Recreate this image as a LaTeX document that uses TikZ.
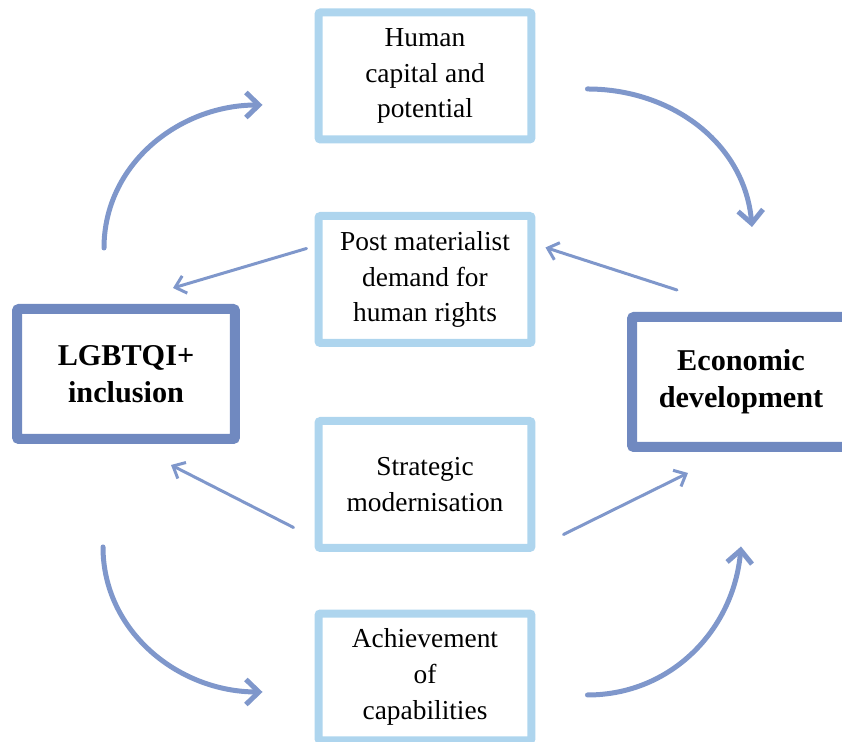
\documentclass[tikz,border=0pt]{standalone}
\usepackage{fontspec}
\setmainfont{Liberation Serif}
\usetikzlibrary{calc}
\usetikzlibrary{arrows.meta}
\definecolor{lightframe}{HTML}{AED5EE}
\definecolor{darkframe}{HTML}{7089C0}
\definecolor{arrowblue}{HTML}{7F97CB}

\begin{document}
\begin{tikzpicture}[x=0.02cm,y=0.02cm,
    lightbox/.style={draw=lightframe,line width=0.16cm,rounded corners=0.04cm,minimum width=4.26cm,minimum height=2.54cm,align=center,font=\fontsize{15.6}{20.3}\selectfont},
    darkbox/.style={draw=darkframe,line width=0.2cm,rounded corners=0.04cm,minimum width=4.36cm,minimum height=2.6cm,align=center,font=\fontsize{17.2}{21}\selectfont\bfseries},
    bigarrow/.style={draw=arrowblue,line width=0.1cm,line cap=round,-{Straight Barb[length=0.26cm,width=0.5cm]}},
    thinarrow/.style={draw=arrowblue,line width=0.06cm,line cap=round,-{Straight Barb[length=0.2cm,width=0.36cm]}}]
    \useasboundingbox (0,0) rectangle (842,742);
    \clip (0,0) rectangle (842,742);
    % middle column
    \foreach \name/\y/\txt in {human/666/{Human\\capital and\\potential},
      postmat/462.5/{Post materialist\\demand for\\human rights},
      strategic/257.5/{Strategic\\modernisation},
      capab/65/{Achievement\\of\\capabilities}}
    {
      \node[lightbox] (\name) at (425,\y) {\txt};
    }
    \node[darkbox] (lgbt) at (126,368) {LGBTQI+\\inclusion};
    \node[darkbox] (econ) at (741,360) {Economic\\development};
    % outer loop
    \draw[bigarrow] ($(lgbt.north)+(-22,56)$) to[out=90,in=180] ($(human.west)+(-52,-29)$);
    \draw[bigarrow] ($(human.east)+(52,-13)$) to[out=0,in=95] ($(econ.north)+(11,85)$);
    \draw[bigarrow] ($(lgbt.south)+(-23,-103)$) to[out=-90,in=180] ($(capab.west)+(-52,-15)$);
    \draw[bigarrow] ($(capab.east)+(52,-18)$) to[out=0,in=-95] ($(econ.south)+(0,-94.5)$);
    % inner arrows
    \draw[thinarrow] ($(postmat.west)+(-8,31)$) -- ($(lgbt.north)+(47,16)$);
    \draw[thinarrow] ($(econ.north)+(-64,22)$) -- ($(postmat.east)+(10,32)$);
    \draw[thinarrow] ($(strategic.west)+(-21,-43)$) -- ($(lgbt.south)+(45,-21)$);
    \draw[thinarrow] ($(strategic.east)+(28,-50)$) -- ($(econ.south)+(-53,-21)$);
  \end{tikzpicture}
\end{document}
